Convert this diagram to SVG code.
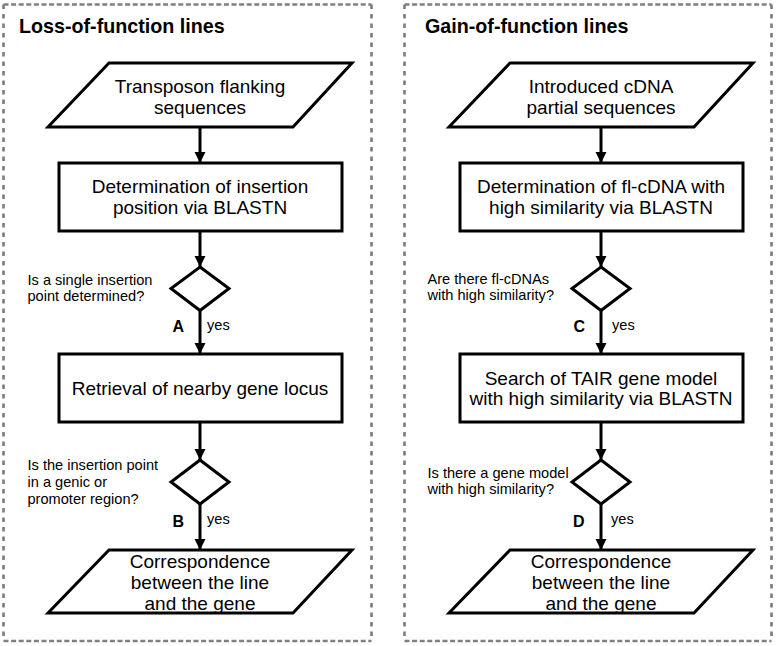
<svg xmlns="http://www.w3.org/2000/svg" width="777" height="646" viewBox="0 0 777 646">
<defs>
<style>
.frameh{stroke:#808080;stroke-width:2.7;stroke-dasharray:5 2.6;fill:none}
.framev{stroke:#808080;stroke-width:2.7;stroke-dasharray:4.5 5;fill:none}
.shape{fill:#fff;stroke:#000;stroke-width:3;stroke-linejoin:miter}
.edge{stroke:#000;stroke-width:3;fill:none}
.title{font-family:"Liberation Sans",Arial,sans-serif;font-weight:bold;font-size:19.7px;fill:#000}
.body{font-family:"Liberation Sans",Arial,sans-serif;font-size:19px;fill:#000;text-anchor:middle}
.lbl{font-family:"Liberation Sans",Arial,sans-serif;font-size:14.6px;fill:#000}
.letter{font-family:"Liberation Sans",Arial,sans-serif;font-weight:bold;font-size:16px;fill:#000}
</style>
<marker id="arr" markerUnits="userSpaceOnUse" markerWidth="12" markerHeight="12" viewBox="0 0 12 12" refX="11" refY="6" orient="auto">
<path d="M0,0.5 L11,6 L0,11.5 Z" fill="#000"/>
</marker>
</defs>

<g id="frame-left">
<line class="frameh" x1="3.5" y1="4.5" x2="371.5" y2="4.5"/>
<line class="frameh" x1="3.5" y1="641" x2="371.5" y2="641"/>
<line class="framev" x1="3.5" y1="4.5" x2="3.5" y2="641"/>
<line class="framev" x1="371.5" y1="4.5" x2="371.5" y2="641"/>
<text class="title" x="19" y="33">Loss-of-function lines</text>
</g>
<g id="frame-right">
<line class="frameh" x1="404.5" y1="4.5" x2="771.5" y2="4.5"/>
<line class="frameh" x1="404.5" y1="641" x2="771.5" y2="641"/>
<line class="framev" x1="404.5" y1="4.5" x2="404.5" y2="641"/>
<line class="framev" x1="771.5" y1="4.5" x2="771.5" y2="641"/>
<text class="title" x="425" y="33">Gain-of-function lines</text>
</g>

<g id="connectors">
<line class="edge" x1="200" y1="127" x2="200" y2="163" marker-end="url(#arr)"/>
<line class="edge" x1="200" y1="231" x2="200" y2="267" marker-end="url(#arr)"/>
<line class="edge" x1="200" y1="310.5" x2="200" y2="354" marker-end="url(#arr)"/>
<line class="edge" x1="200" y1="422" x2="200" y2="460" marker-end="url(#arr)"/>
<line class="edge" x1="200" y1="504" x2="200" y2="550" marker-end="url(#arr)"/>
<line class="edge" x1="601" y1="127" x2="601" y2="163" marker-end="url(#arr)"/>
<line class="edge" x1="601" y1="231" x2="601" y2="267" marker-end="url(#arr)"/>
<line class="edge" x1="601" y1="310.5" x2="601" y2="354" marker-end="url(#arr)"/>
<line class="edge" x1="601" y1="422" x2="601" y2="460" marker-end="url(#arr)"/>
<line class="edge" x1="601" y1="504" x2="601" y2="550" marker-end="url(#arr)"/>
<text class="letter" x="172.5" y="332">A</text>
<text class="lbl" x="207" y="330">yes</text>
<text class="letter" x="172.5" y="527">B</text>
<text class="lbl" x="207" y="524">yes</text>
<text class="letter" x="573.5" y="332">C</text>
<text class="lbl" x="612" y="330">yes</text>
<text class="letter" x="573" y="527">D</text>
<text class="lbl" x="611" y="524">yes</text>
</g>

<g id="L-input">
<polygon class="shape" points="109,63 352,63 293,127 48,127"/>
<text class="body" x="200" y="93">Transposon flanking</text>
<text class="body" x="200" y="114">sequences</text>
</g>
<g id="L-determination">
<rect class="shape" x="59" y="163" width="283" height="68"/>
<text class="body" x="200" y="193">Determination of insertion</text>
<text class="body" x="200" y="214">position via BLASTN</text>
</g>
<g id="L-decision-A">
<polygon class="shape" points="200,267 229,288.5 200,310.5 171,288.5"/>
<text class="lbl" x="27.5" y="285">Is a single insertion</text>
<text class="lbl" x="27.5" y="301">point determined?</text>
</g>
<g id="L-retrieval">
<rect class="shape" x="59" y="354" width="283" height="68"/>
<text class="body" x="200" y="394.5">Retrieval of nearby gene locus</text>
</g>
<g id="L-decision-B">
<polygon class="shape" points="200,460 229,482 200,504 171,482"/>
<text class="lbl" x="27.5" y="469.5">Is the insertion point</text>
<text class="lbl" x="27.5" y="486.5">in a genic or</text>
<text class="lbl" x="27.5" y="503.5">promoter region?</text>
</g>
<g id="L-output">
<polygon class="shape" points="109,550 352,550 293,613 48,613"/>
<text class="body" x="200" y="567.5">Correspondence</text>
<text class="body" x="200" y="588.5">between the line</text>
<text class="body" x="200" y="609.5">and the gene</text>
</g>

<g id="R-input">
<polygon class="shape" points="510,63 753,63 694,127 449,127"/>
<text class="body" x="601" y="93">Introduced cDNA</text>
<text class="body" x="601" y="114">partial sequences</text>
</g>
<g id="R-determination">
<rect class="shape" x="460" y="163" width="283" height="68"/>
<text class="body" x="601" y="193">Determination of fl-cDNA with</text>
<text class="body" x="601" y="214">high similarity via BLASTN</text>
</g>
<g id="R-decision-C">
<polygon class="shape" points="601,267 630,288.5 601,310.5 572,288.5"/>
<text class="lbl" x="427.5" y="284">Are there fl-cDNAs</text>
<text class="lbl" x="427.5" y="300">with high similarity?</text>
</g>
<g id="R-search">
<rect class="shape" x="460" y="354" width="283" height="68"/>
<text class="body" x="601" y="384.5">Search of TAIR gene model</text>
<text class="body" x="601" y="405">with high similarity via BLASTN</text>
</g>
<g id="R-decision-D">
<polygon class="shape" points="601,460 630,482 601,504 572,482"/>
<text class="lbl" x="427.5" y="477.5">Is there a gene model</text>
<text class="lbl" x="427.5" y="493.5">with high similarity?</text>
</g>
<g id="R-output">
<polygon class="shape" points="510,550 753,550 694,613 449,613"/>
<text class="body" x="601" y="567.5">Correspondence</text>
<text class="body" x="601" y="588.5">between the line</text>
<text class="body" x="601" y="609.5">and the gene</text>
</g>
</svg>
